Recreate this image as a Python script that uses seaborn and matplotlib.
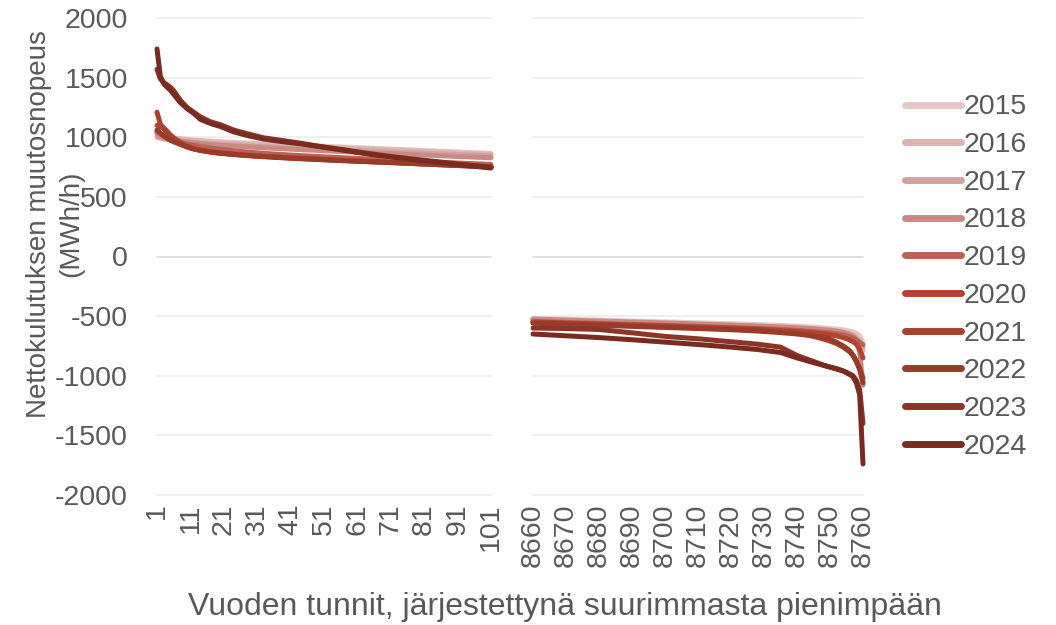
import numpy as np
import pandas as pd
import matplotlib
matplotlib.use("Agg")
import matplotlib.pyplot as plt
from matplotlib.lines import Line2D
import seaborn as sns

# Years and their line colours (light to dark)
years = ["2015", "2016", "2017", "2018", "2019", "2020", "2021", "2022", "2023", "2024"]
colors = ["#e3c8c6", "#dbb5b2", "#d4a29e", "#c98a83", "#bc6255",
          "#b34530", "#a8412e", "#9a3a2a", "#8c3526", "#7a2b20"]

# Largest hours of the sorted duration curve
hours_top = [1, 2, 3, 4, 5, 6, 8, 10, 12, 14, 17, 20, 24, 28, 33, 38, 44, 50, 57, 64, 72, 80, 90, 101]
top_2015 = [1020, 1012, 1006, 1001, 997, 993, 987, 982, 977, 973, 968, 963, 957, 952, 946, 940, 933, 926, 918, 910, 900, 890, 878, 865]
top_2016 = [1040, 1025, 1015, 1007, 1000, 995, 986, 979, 973, 968, 962, 956, 950, 944, 937, 931, 924, 917, 909, 901, 892, 883, 871, 858]
top_2017 = [1000, 993, 987, 982, 978, 974, 968, 962, 957, 952, 946, 940, 934, 928, 921, 915, 908, 901, 893, 885, 876, 867, 856, 845]
top_2018 = [1030, 1010, 998, 990, 983, 977, 968, 960, 953, 947, 940, 933, 926, 919, 911, 904, 896, 888, 879, 870, 861, 852, 840, 828]
top_2019 = [1050, 1030, 1012, 998, 985, 975, 958, 944, 932, 922, 910, 899, 887, 876, 865, 856, 846, 837, 828, 818, 807, 797, 785, 772]
top_2020 = [1100, 1085, 1080, 1050, 1020, 995, 955, 925, 905, 892, 878, 868, 858, 849, 840, 832, 823, 815, 806, 798, 789, 779, 767, 754]
top_2021 = [1210, 1110, 1070, 1040, 1010, 985, 950, 920, 902, 890, 877, 867, 857, 848, 839, 831, 822, 814, 805, 796, 787, 777, 765, 752]
top_2022 = [1060, 1035, 1012, 993, 975, 962, 940, 918, 902, 890, 876, 865, 855, 846, 837, 829, 820, 812, 803, 795, 786, 776, 764, 750]
top_2023 = [1570, 1490, 1460, 1440, 1420, 1390, 1310, 1250, 1210, 1170, 1130, 1105, 1060, 1030, 995, 975, 950, 922, 895, 865, 835, 810, 780, 748]
top_2024 = [1740, 1510, 1450, 1420, 1395, 1360, 1290, 1240, 1200, 1150, 1115, 1090, 1045, 1015, 985, 965, 945, 920, 890, 860, 832, 805, 775, 742]

# Smallest hours of the sorted duration curve
hours_bottom = [8660, 8670, 8680, 8690, 8700, 8710, 8720, 8728, 8735, 8740, 8745, 8749, 8752, 8754, 8756, 8757, 8758, 8759, 8760]
bottom_2015 = [-520, -527, -534, -541, -548, -556, -564, -571, -578, -584, -592, -600, -608, -615, -625, -632, -642, -665, -720]
bottom_2016 = [-530, -538, -545, -553, -561, -569, -578, -586, -593, -600, -608, -616, -625, -633, -645, -655, -670, -700, -790]
bottom_2017 = [-540, -548, -556, -564, -572, -580, -589, -597, -605, -612, -620, -628, -637, -646, -660, -672, -690, -720, -760]
bottom_2018 = [-525, -533, -541, -549, -557, -566, -575, -583, -591, -598, -606, -615, -625, -636, -652, -668, -700, -800, -1080]
bottom_2019 = [-545, -553, -561, -569, -577, -586, -595, -603, -612, -620, -629, -638, -648, -658, -672, -684, -700, -720, -740]
bottom_2020 = [-550, -558, -566, -574, -583, -592, -601, -610, -620, -628, -640, -652, -665, -680, -700, -715, -735, -780, -850]
bottom_2021 = [-555, -563, -571, -580, -589, -598, -607, -616, -628, -640, -670, -700, -730, -760, -800, -830, -880, -940, -1020]
bottom_2022 = [-560, -568, -577, -586, -595, -604, -614, -625, -638, -650, -665, -680, -720, -750, -790, -830, -880, -950, -1060]
bottom_2023 = [-600, -604, -612, -640, -670, -690, -715, -735, -760, -830, -880, -920, -945, -960, -985, -1000, -1040, -1120, -1400]
bottom_2024 = [-650, -665, -680, -698, -718, -738, -760, -780, -805, -850, -890, -920, -940, -960, -990, -1010, -1060, -1160, -1740]

top_series = [top_2015, top_2016, top_2017, top_2018, top_2019,
              top_2020, top_2021, top_2022, top_2023, top_2024]
bottom_series = [bottom_2015, bottom_2016, bottom_2017, bottom_2018, bottom_2019,
                 bottom_2020, bottom_2021, bottom_2022, bottom_2023, bottom_2024]

y_ticks = [-2000, -1500, -1000, -500, 0, 500, 1000, 1500, 2000]
x_ticks_top = list(range(1, 102, 10))
x_ticks_bottom = list(range(8660, 8761, 10))


def long_frame(hours, series):
    rows = []
    for year, vals in zip(years, series):
        for h, v in zip(hours, vals):
            rows.append((year, h, v))
    return pd.DataFrame(rows, columns=["vuosi", "tunti", "arvo"])


df_top = long_frame(hours_top, top_series)
df_bottom = long_frame(hours_bottom, bottom_series)

sns.set_theme(style="white")
plt.rcParams["font.family"] = ["Liberation Sans", "DejaVu Sans"]

text_color = "#595959"
fs = 20.5

fig = plt.figure(figsize=(10.56, 6.25), dpi=100)
ax1 = fig.add_axes([157 / 1056, 1 - 495 / 625, (491 - 157) / 1056, (495 - 18) / 625])
ax2 = fig.add_axes([533 / 1056, 1 - 495 / 625, (863 - 533) / 1056, (495 - 18) / 625])

line_kw = dict(linewidth=3.6, solid_capstyle="round", solid_joinstyle="round")
sns.lineplot(data=df_top, x="tunti", y="arvo", hue="vuosi", hue_order=years,
             palette=colors, legend=False, ax=ax1, **line_kw)
sns.lineplot(data=df_bottom, x="tunti", y="arvo", hue="vuosi", hue_order=years,
             palette=colors, legend=False, ax=ax2, **line_kw)

for ax, xt, xlim in ((ax1, x_ticks_top, (1, 101)), (ax2, x_ticks_bottom, (8660, 8760))):
    ax.set_xlim(*xlim)
    ax.set_ylim(-2000, 2000)
    ax.set_yticks(y_ticks)
    ax.set_xticks(xt)
    ax.set_xticklabels([str(t) for t in xt], rotation=90, fontsize=fs, color=text_color)
    ax.set_xlabel("")
    ax.set_ylabel("")
    for s in ax.spines.values():
        s.set_visible(False)
    ax.grid(False)
    for yv in y_ticks:
        ax.axhline(yv, color="#d9d9d9" if yv == 0 else "#ececec",
                   linewidth=1.2, zorder=0, clip_on=False)
    ax.tick_params(axis="both", length=0, pad=6)
    for ln in ax.get_lines():
        ln.set_clip_on(False)

ax1.set_yticklabels([str(t) for t in y_ticks], fontsize=fs, color=text_color)
ax1.tick_params(axis="y", pad=21)
ax2.set_yticklabels([])

# Two-line y-axis title, each line placed on its own
fig.text(39 / 1056, 1 - 224 / 625, "Nettokulutuksen muutosnopeus",
         rotation=90, ha="center", va="center", fontsize=20, color=text_color)
fig.text(71 / 1056, 1 - 224 / 625, "(MWh/h)",
         rotation=90, ha="center", va="center", fontsize=20, color=text_color)
fig.text(565 / 1056, 1 - 607 / 625, "Vuoden tunnit, järjestettynä suurimmasta pienimpään",
         ha="center", va="center", fontsize=23, color=text_color)

handles = [Line2D([0], [0], color=c, linewidth=5, solid_capstyle="round") for c in colors]
fig.legend(handles, years, loc="center left", bbox_to_anchor=(905 / 1056, 1 - 277 / 625),
           frameon=False, fontsize=fs, labelcolor=text_color, handlelength=1.95,
           handletextpad=0.12, labelspacing=0.41, borderaxespad=0, borderpad=0)

fig.savefig("out.png", dpi=100)
